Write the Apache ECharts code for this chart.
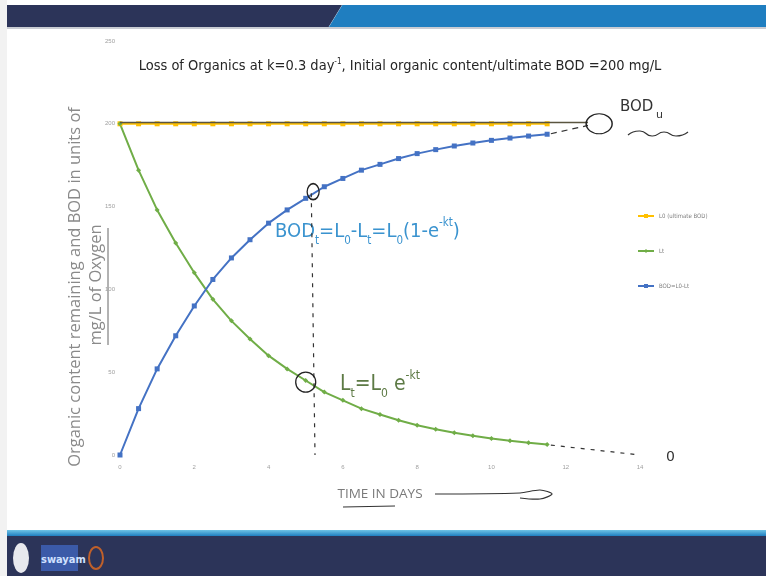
<!DOCTYPE html>
<html><head><meta charset="utf-8">
<script src="https://cdn.jsdelivr.net/npm/echarts@6/dist/echarts.min.js"></script>
<style>
html,body{margin:0;padding:0;background:#fff;width:766px;height:576px;overflow:hidden;position:relative;font-family:'Open Sans',sans-serif}
#navy{position:absolute;left:7px;top:5px;width:335px;height:22px;background:#2c3459;clip-path:polygon(0 0,100% 0,96% 100%,0 100%)}
#blue{position:absolute;left:320px;top:5px;width:446px;height:22px;background:#1f7ec0;clip-path:polygon(5% 0,100% 0,100% 100%,2% 100%)}
#hl{position:absolute;left:7px;top:27px;width:759px;height:2px;background:#c9ccd3}
#lb{position:absolute;left:0;top:0;width:7px;height:576px;background:#f2f2f2}
#bstripe{position:absolute;left:7px;top:530px;width:759px;height:6px;background:linear-gradient(#6fc3e6,#1f7ec0)}
#bnav{position:absolute;left:7px;top:536px;width:759px;height:40px;background:#2c3459}
#logo1{position:absolute;left:13px;top:543px;width:16px;height:30px;border-radius:50%;background:#e8e9ee}
#logo2{position:absolute;left:41px;top:545px;width:37px;height:26px;background:#3b5aa8;color:#cfe0ff;font:bold 11px 'DejaVu Sans Condensed',sans-serif;line-height:30px;text-align:center}
#logo3{position:absolute;left:88px;top:546px;width:12px;height:20px;border-radius:50%;border:2px solid #c0602a}
#chart{position:absolute;left:0;top:0;width:766px;height:576px}
</style></head>
<body>
<div id="lb"></div><div id="navy"></div><div id="blue"></div><div id="hl"></div>
<div id="bstripe"></div><div id="bnav"></div><div id="logo1"></div><div id="logo2">swayam</div><div id="logo3"></div>
<div id="chart"></div>
<script>
const days = [0,0.5,1,1.5,2,2.5,3,3.5,4,4.5,5,5.5,6,6.5,7,7.5,8,8.5,9,9.5,10,10.5,11,11.5];
const ultimateBOD = [200,200,200,200,200,200,200,200,200,200,200,200,200,200,200,200,200,200,200,200,200,200,200,200];
const remaining = [200,172,148,128,110,94,81,70,60,52,45,38,33,28,24.5,21,18,15.6,13.4,11.6,10,8.6,7.4,6.3];
const bodExerted = [0,28,52,72,90,106,119,130,140,148,155,162,167,172,175.5,179,182,184.4,186.6,188.4,190,191.4,192.6,193.7];
const xTicks = [0,2,4,6,8,10,12,14];
const yTicks = [0,50,100,150,200,250];
const legendNames = ['L0 (ultimate BOD)','Lt','BOD=L0-Lt'];

const pairs = ys => days.map((d,i)=>[d, ys[i]]);
const chart = echarts.init(document.getElementById('chart'), null, {renderer:'canvas'});
const narrow = "'Liberation Sans Narrow','DejaVu Sans Condensed','Open Sans',sans-serif";

chart.setOption({
  animation:false,
  backgroundColor:'transparent',
  title:{
    text:'{a|Loss of Organics at k=0.3 day}{s|-1}{a|, Initial organic content/ultimate BOD =200 mg/L}',
    left:395, top:50, textAlign:'center',
    textStyle:{fontWeight:'normal',rich:{
      a:{fontFamily:narrow,fontSize:14.5,fontWeight:'normal',color:'#262626',lineHeight:22,verticalAlign:'middle'},
      s:{fontFamily:narrow,fontSize:8,fontWeight:'normal',color:'#262626',lineHeight:22,verticalAlign:'middle',padding:[0,0,8,0]}
    }}
  },
  grid:{left:120,right:126,top:41,bottom:121},
  legend:{
    orient:'vertical', left:632, top:208, itemGap:29, itemWidth:16, itemHeight:5,
    data:legendNames, textStyle:{fontSize:6,color:'#808080',fontFamily:narrow}
  },
  xAxis:{
    type:'value', min:0, max:14, interval:2,
    axisLine:{show:false}, axisTick:{show:false}, splitLine:{show:false},
    axisLabel:{fontSize:6,color:'#a0a0a0',margin:9},
    name:'TIME IN DAYS', nameLocation:'middle', nameGap:32,
    nameTextStyle:{fontSize:13.5,color:'#7a7a7a',fontFamily:"'Open Sans',sans-serif"}
  },
  yAxis:{
    type:'value', min:0, max:250, interval:50,
    axisLine:{show:false}, axisTick:{show:false}, splitLine:{show:false},
    axisLabel:{fontSize:6,color:'#a0a0a0',margin:5}
  },
  graphic:[
    {type:'text', x:75, y:287, rotation:Math.PI/2,
      style:{text:'Organic content remaining and BOD in units of', fontSize:16.5, fill:'#8a8a8a',
        fontFamily:"'Open Sans',sans-serif", align:'center', verticalAlign:'middle'}},
    {type:'text', x:96, y:285, rotation:Math.PI/2,
      style:{text:'mg/L of Oxygen', fontSize:16.5, fill:'#8a8a8a',
        fontFamily:"'Open Sans',sans-serif", align:'center', verticalAlign:'middle'}},
    {type:'polyline', shape:{points:[[108,228],[108,345]]}, style:{stroke:'#666',lineWidth:1,fill:null}},
    {type:'text', x:275, y:232,
      style:{text:'{b|BOD}{sb|t}{b|=L}{sb|0}{b|-L}{sb|t}{b|=L}{sb|0}{b|(1-e}{sp|-kt}{b|)}',
        verticalAlign:'middle',
        rich:{
          b:{fontFamily:narrow,fontSize:20,fill:'#3a93cf',lineHeight:30,verticalAlign:'middle'},
          sb:{fontFamily:narrow,fontSize:11.5,fill:'#3a93cf',lineHeight:30,verticalAlign:'bottom'},
          sp:{fontFamily:narrow,fontSize:11.5,fill:'#3a93cf',lineHeight:30,verticalAlign:'top'}
        }}},
    {type:'text', x:340, y:385,
      style:{text:'{b|L}{sb|t}{b|=L}{sb|0}{b| e}{sp|-kt}',
        verticalAlign:'middle',
        rich:{
          b:{fontFamily:narrow,fontSize:21,fill:'#5d7a45',lineHeight:30,verticalAlign:'middle'},
          sb:{fontFamily:narrow,fontSize:12,fill:'#5d7a45',lineHeight:30,verticalAlign:'bottom'},
          sp:{fontFamily:narrow,fontSize:12,fill:'#5d7a45',lineHeight:30,verticalAlign:'top'}
        }}},
    {type:'text', x:620, y:100,
      style:{text:'BOD', fontSize:15, fill:'#333', fontFamily:"'DejaVu Sans',sans-serif"}},
    {type:'text', x:656, y:110,
      style:{text:'u', fontSize:11, fill:'#333', fontFamily:"'DejaVu Sans',sans-serif"}},
    {type:'polyline', shape:{points:[[628,135],[640,131],[652,136],[664,132],[676,136],[688,132]],smooth:0.6},
      style:{stroke:'#333',lineWidth:1.2,fill:null}},
    {type:'text', x:666, y:450, style:{text:'0', fontSize:14, fill:'#333', fontFamily:"'DejaVu Sans',sans-serif"}},
    {type:'polyline', shape:{points:[[343,507],[395,506]]}, style:{stroke:'#333',lineWidth:1.2,fill:null}},
    {type:'polyline', shape:{points:[[435,494],[520,493],[540,490],[552,494],[540,499],[520,498]],smooth:0.3},
      style:{stroke:'#333',lineWidth:1.2,fill:null}}
  ],
  series:[
    {name:legendNames[0], type:'line', data:pairs(ultimateBOD), color:'#ffc000',
      symbol:'rect', symbolSize:5, lineStyle:{width:2,color:'#ffc000'}, itemStyle:{color:'#ffc000'},
      markLine:{silent:true, symbol:'none', label:{show:false},
        lineStyle:{color:'#5a5540',width:1.3,type:'solid'},
        data:[[{coord:[0,201]},{coord:[12.6,201]}]]},
      markPoint:{silent:true, symbol:'circle', symbolSize:[26,20], label:{show:false},
        itemStyle:{color:'rgba(0,0,0,0)',borderColor:'#222',borderWidth:1.3},
        data:[{coord:[12.9,200]}]}
    },
    {name:legendNames[1], type:'line', data:pairs(remaining), color:'#70ad47',
      symbol:'diamond', symbolSize:5, lineStyle:{width:2,color:'#70ad47'}, itemStyle:{color:'#70ad47'},
      markLine:{silent:true, symbol:'none', label:{show:false},
        lineStyle:{color:'#333',width:1.2,type:[4,6]},
        data:[[{coord:[11.6,6]},{coord:[14,0]}],[{coord:[5.15,158]},{coord:[5.25,0]}]]},
      markPoint:{silent:true, symbol:'circle', symbolSize:[20,20], label:{show:false},
        itemStyle:{color:'rgba(0,0,0,0)',borderColor:'#222',borderWidth:1.3},
        data:[{coord:[14.1,-1]},{coord:[5,44]}]}
    },
    {name:legendNames[2], type:'line', data:pairs(bodExerted), color:'#4472c4',
      symbol:'rect', symbolSize:5, lineStyle:{width:2,color:'#4472c4'}, itemStyle:{color:'#4472c4'},
      markLine:{silent:true, symbol:'none', label:{show:false},
        lineStyle:{color:'#333',width:1.2,type:[6,5]},
        data:[[{coord:[11.6,194]},{coord:[12.6,199]}]]},
      markPoint:{silent:true, symbol:'circle', symbolSize:[12,16], label:{show:false},
        itemStyle:{color:'rgba(0,0,0,0)',borderColor:'#222',borderWidth:1.5},
        data:[{coord:[5.2,159]}]}
    }
  ]
});
</script>
</body></html>
